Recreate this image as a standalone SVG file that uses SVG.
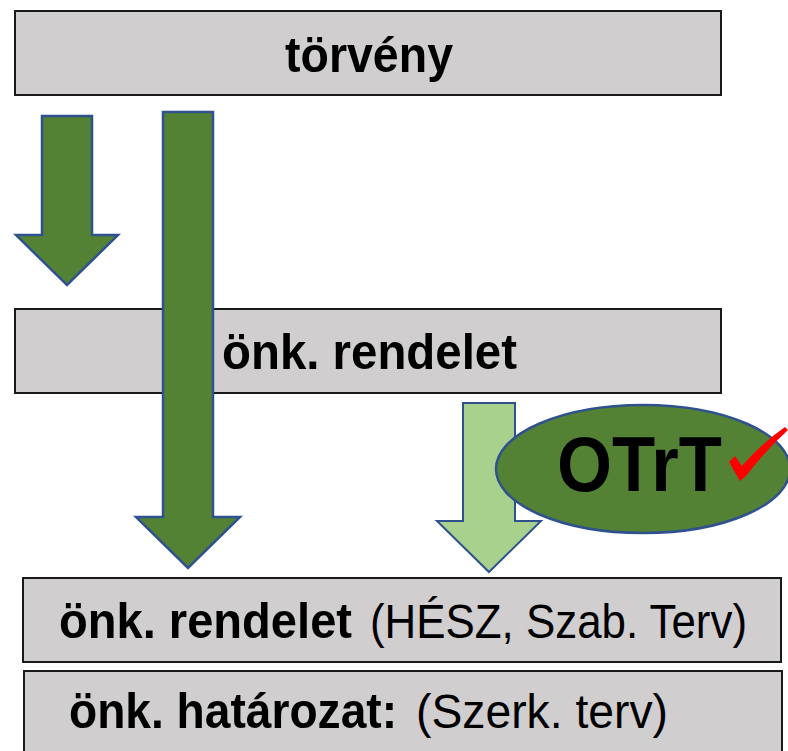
<svg xmlns="http://www.w3.org/2000/svg" width="788" height="751" viewBox="0 0 788 751">
<style>
.box{fill:#d0cece;stroke:#1a1a1a;stroke-width:2}
.arr{fill:#548235;stroke:#2f528f;stroke-width:2.5;stroke-linejoin:miter}
.arrl{fill:#a9d18e;stroke:#2f528f;stroke-width:2}
.t{font-family:"Liberation Sans",Arial,sans-serif;font-size:50px;fill:#000}
.r{font-size:48px}
.b{font-weight:bold}
</style>
<rect width="788" height="751" fill="#ffffff"/>
<g id="torveny">
<rect class="box" x="15" y="11" width="706" height="84"/>
<text class="t b" x="285" y="72" textLength="168" lengthAdjust="spacingAndGlyphs">törvény</text>
</g>
<g id="onk-rendelet">
<rect class="box" x="15" y="309" width="706" height="84"/>
<text class="t b" x="222" y="369" textLength="295" lengthAdjust="spacingAndGlyphs">önk. rendelet</text>
</g>
<g id="onk-rendelet-hesz">
<rect class="box" x="23" y="578" width="758" height="84"/>
<text class="t b" x="59" y="638" textLength="293" lengthAdjust="spacingAndGlyphs">önk. rendelet</text>
<text class="t r" x="370" y="638" textLength="377" lengthAdjust="spacingAndGlyphs">(HÉSZ, Szab. Terv)</text>
</g>
<g id="onk-hatarozat">
<rect class="box" x="24" y="671" width="758" height="95"/>
<text class="t b" x="69" y="728" textLength="328" lengthAdjust="spacingAndGlyphs">önk. határozat:</text>
<text class="t r" x="416" y="728" textLength="252" lengthAdjust="spacingAndGlyphs">(Szerk. terv)</text>
</g>
<g id="connectors">
<polygon class="arr" points="42,116 92,116 92,235 118,235 67,285 16,235 42,235"/>
<polygon class="arr" points="163,112 213,112 213,517 240,517 188,568 136,517 163,517"/>
<polygon class="arrl" points="463,403 515,403 515,521 541,521 489,572 437,521 463,521"/>
</g>
<g id="otrt">
<ellipse cx="643" cy="469" rx="147" ry="64" fill="#548235" stroke="#2f528f" stroke-width="2.5"/>
<text class="t b" x="557" y="491" style="font-size:77px" textLength="165" lengthAdjust="spacingAndGlyphs">OTrT</text>
<path d="M729,462 L735,456 L742,466 Q762,443 785,427 L788,430 Q764,452 746,476 L740,481 Z" fill="#ff0000"/>
</g>
</svg>
